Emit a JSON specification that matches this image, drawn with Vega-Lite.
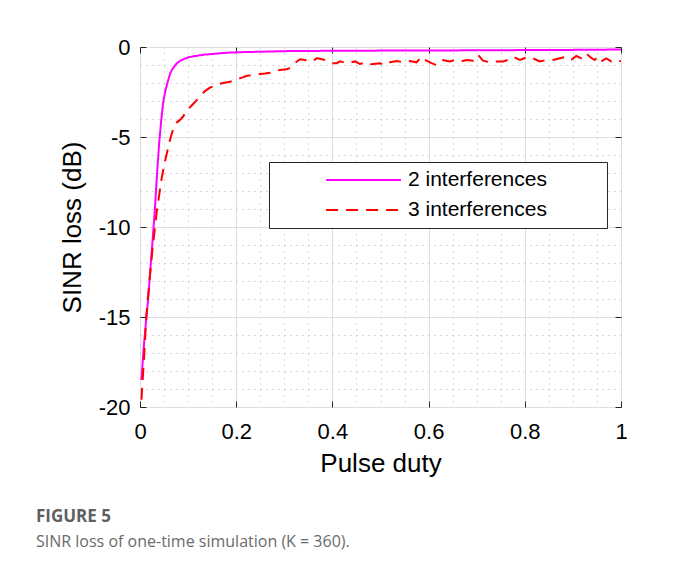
{
  "$schema": "https://vega.github.io/schema/vega-lite/v6.json",
  "width": 481,
  "height": 360,
  "autosize": {"type": "none"},
  "padding": {"left": 140, "top": 47, "right": 59, "bottom": 160},
  "background": "white",
  "config": {
    "view": {"stroke": "#262626", "strokeWidth": 1},
    "font": "Liberation Sans"
  },
  "title": {
    "text": "FIGURE 5",
    "subtitle": "SINR loss of one-time simulation (K = 360).",
    "orient": "bottom",
    "anchor": "start",
    "frame": "group",
    "dx": -104,
    "offset": 33,
    "font": "Open Sans",
    "fontSize": 17,
    "fontWeight": "bold",
    "color": "#5f5f5f",
    "subtitleFont": "Open Sans",
    "subtitleFontSize": 16,
    "subtitleColor": "#6b6b6b",
    "subtitlePadding": 8
  },
  "data": {
    "values": [
      {"duty": 0.003, "loss": -18.5, "series": "2 interferences"},
      {"duty": 0.008, "loss": -16.6, "series": "2 interferences"},
      {"duty": 0.013, "loss": -15.1, "series": "2 interferences"},
      {"duty": 0.017, "loss": -14.0, "series": "2 interferences"},
      {"duty": 0.022, "loss": -12.2, "series": "2 interferences"},
      {"duty": 0.026, "loss": -10.8, "series": "2 interferences"},
      {"duty": 0.031, "loss": -9.0, "series": "2 interferences"},
      {"duty": 0.036, "loss": -6.8, "series": "2 interferences"},
      {"duty": 0.040, "loss": -5.3, "series": "2 interferences"},
      {"duty": 0.044, "loss": -4.1, "series": "2 interferences"},
      {"duty": 0.048, "loss": -3.1, "series": "2 interferences"},
      {"duty": 0.053, "loss": -2.4, "series": "2 interferences"},
      {"duty": 0.058, "loss": -1.9, "series": "2 interferences"},
      {"duty": 0.063, "loss": -1.45, "series": "2 interferences"},
      {"duty": 0.068, "loss": -1.2, "series": "2 interferences"},
      {"duty": 0.076, "loss": -0.92, "series": "2 interferences"},
      {"duty": 0.083, "loss": -0.78, "series": "2 interferences"},
      {"duty": 0.090, "loss": -0.68, "series": "2 interferences"},
      {"duty": 0.100, "loss": -0.58, "series": "2 interferences"},
      {"duty": 0.110, "loss": -0.52, "series": "2 interferences"},
      {"duty": 0.120, "loss": -0.48, "series": "2 interferences"},
      {"duty": 0.135, "loss": -0.42, "series": "2 interferences"},
      {"duty": 0.152, "loss": -0.39, "series": "2 interferences"},
      {"duty": 0.170, "loss": -0.34, "series": "2 interferences"},
      {"duty": 0.187, "loss": -0.31, "series": "2 interferences"},
      {"duty": 0.220, "loss": -0.28, "series": "2 interferences"},
      {"duty": 0.256, "loss": -0.26, "series": "2 interferences"},
      {"duty": 0.300, "loss": -0.23, "series": "2 interferences"},
      {"duty": 0.350, "loss": -0.22, "series": "2 interferences"},
      {"duty": 0.400, "loss": -0.21, "series": "2 interferences"},
      {"duty": 0.450, "loss": -0.21, "series": "2 interferences"},
      {"duty": 0.500, "loss": -0.2, "series": "2 interferences"},
      {"duty": 0.550, "loss": -0.2, "series": "2 interferences"},
      {"duty": 0.600, "loss": -0.19, "series": "2 interferences"},
      {"duty": 0.650, "loss": -0.19, "series": "2 interferences"},
      {"duty": 0.700, "loss": -0.18, "series": "2 interferences"},
      {"duty": 0.750, "loss": -0.18, "series": "2 interferences"},
      {"duty": 0.800, "loss": -0.17, "series": "2 interferences"},
      {"duty": 0.850, "loss": -0.17, "series": "2 interferences"},
      {"duty": 0.900, "loss": -0.16, "series": "2 interferences"},
      {"duty": 0.950, "loss": -0.15, "series": "2 interferences"},
      {"duty": 1.000, "loss": -0.14, "series": "2 interferences"},

      {"duty": 0.003, "loss": -19.6, "series": "3 interferences"},
      {"duty": 0.006, "loss": -18.3, "series": "3 interferences"},
      {"duty": 0.009, "loss": -17.0, "series": "3 interferences"},
      {"duty": 0.013, "loss": -15.0, "series": "3 interferences"},
      {"duty": 0.017, "loss": -13.8, "series": "3 interferences"},
      {"duty": 0.021, "loss": -12.6, "series": "3 interferences"},
      {"duty": 0.025, "loss": -11.5, "series": "3 interferences"},
      {"duty": 0.030, "loss": -10.3, "series": "3 interferences"},
      {"duty": 0.035, "loss": -9.1, "series": "3 interferences"},
      {"duty": 0.040, "loss": -8.2, "series": "3 interferences"},
      {"duty": 0.045, "loss": -7.3, "series": "3 interferences"},
      {"duty": 0.050, "loss": -6.6, "series": "3 interferences"},
      {"duty": 0.055, "loss": -6.0, "series": "3 interferences"},
      {"duty": 0.060, "loss": -5.4, "series": "3 interferences"},
      {"duty": 0.065, "loss": -4.9, "series": "3 interferences"},
      {"duty": 0.070, "loss": -4.5, "series": "3 interferences"},
      {"duty": 0.076, "loss": -4.2, "series": "3 interferences"},
      {"duty": 0.083, "loss": -4.05, "series": "3 interferences"},
      {"duty": 0.090, "loss": -3.85, "series": "3 interferences"},
      {"duty": 0.097, "loss": -3.5, "series": "3 interferences"},
      {"duty": 0.104, "loss": -3.35, "series": "3 interferences"},
      {"duty": 0.111, "loss": -3.15, "series": "3 interferences"},
      {"duty": 0.118, "loss": -2.95, "series": "3 interferences"},
      {"duty": 0.125, "loss": -2.75, "series": "3 interferences"},
      {"duty": 0.135, "loss": -2.45, "series": "3 interferences"},
      {"duty": 0.146, "loss": -2.25, "series": "3 interferences"},
      {"duty": 0.155, "loss": -2.15, "series": "3 interferences"},
      {"duty": 0.165, "loss": -2.05, "series": "3 interferences"},
      {"duty": 0.173, "loss": -2.0, "series": "3 interferences"},
      {"duty": 0.187, "loss": -1.93, "series": "3 interferences"},
      {"duty": 0.201, "loss": -1.8, "series": "3 interferences"},
      {"duty": 0.212, "loss": -1.7, "series": "3 interferences"},
      {"duty": 0.222, "loss": -1.6, "series": "3 interferences"},
      {"duty": 0.236, "loss": -1.56, "series": "3 interferences"},
      {"duty": 0.250, "loss": -1.5, "series": "3 interferences"},
      {"duty": 0.260, "loss": -1.47, "series": "3 interferences"},
      {"duty": 0.270, "loss": -1.43, "series": "3 interferences"},
      {"duty": 0.284, "loss": -1.3, "series": "3 interferences"},
      {"duty": 0.295, "loss": -1.27, "series": "3 interferences"},
      {"duty": 0.305, "loss": -1.24, "series": "3 interferences"},
      {"duty": 0.313, "loss": -1.15, "series": "3 interferences"},
      {"duty": 0.319, "loss": -1.0, "series": "3 interferences"},
      {"duty": 0.326, "loss": -0.8, "series": "3 interferences"},
      {"duty": 0.333, "loss": -0.68, "series": "3 interferences"},
      {"duty": 0.343, "loss": -0.72, "series": "3 interferences"},
      {"duty": 0.353, "loss": -0.81, "series": "3 interferences"},
      {"duty": 0.360, "loss": -0.78, "series": "3 interferences"},
      {"duty": 0.367, "loss": -0.63, "series": "3 interferences"},
      {"duty": 0.374, "loss": -0.65, "series": "3 interferences"},
      {"duty": 0.384, "loss": -0.72, "series": "3 interferences"},
      {"duty": 0.399, "loss": -0.9, "series": "3 interferences"},
      {"duty": 0.409, "loss": -0.9, "series": "3 interferences"},
      {"duty": 0.416, "loss": -0.8, "series": "3 interferences"},
      {"duty": 0.430, "loss": -0.9, "series": "3 interferences"},
      {"duty": 0.447, "loss": -0.8, "series": "3 interferences"},
      {"duty": 0.457, "loss": -0.94, "series": "3 interferences"},
      {"duty": 0.471, "loss": -0.85, "series": "3 interferences"},
      {"duty": 0.481, "loss": -0.96, "series": "3 interferences"},
      {"duty": 0.499, "loss": -0.9, "series": "3 interferences"},
      {"duty": 0.509, "loss": -1.0, "series": "3 interferences"},
      {"duty": 0.520, "loss": -0.85, "series": "3 interferences"},
      {"duty": 0.534, "loss": -0.78, "series": "3 interferences"},
      {"duty": 0.547, "loss": -0.85, "series": "3 interferences"},
      {"duty": 0.561, "loss": -0.78, "series": "3 interferences"},
      {"duty": 0.575, "loss": -0.85, "series": "3 interferences"},
      {"duty": 0.585, "loss": -0.54, "series": "3 interferences"},
      {"duty": 0.592, "loss": -0.7, "series": "3 interferences"},
      {"duty": 0.606, "loss": -0.9, "series": "3 interferences"},
      {"duty": 0.616, "loss": -1.0, "series": "3 interferences"},
      {"duty": 0.630, "loss": -0.72, "series": "3 interferences"},
      {"duty": 0.644, "loss": -0.8, "series": "3 interferences"},
      {"duty": 0.654, "loss": -0.72, "series": "3 interferences"},
      {"duty": 0.668, "loss": -0.8, "series": "3 interferences"},
      {"duty": 0.679, "loss": -0.72, "series": "3 interferences"},
      {"duty": 0.693, "loss": -0.76, "series": "3 interferences"},
      {"duty": 0.703, "loss": -0.44, "series": "3 interferences"},
      {"duty": 0.713, "loss": -0.76, "series": "3 interferences"},
      {"duty": 0.727, "loss": -0.85, "series": "3 interferences"},
      {"duty": 0.741, "loss": -0.8, "series": "3 interferences"},
      {"duty": 0.755, "loss": -0.8, "series": "3 interferences"},
      {"duty": 0.765, "loss": -0.72, "series": "3 interferences"},
      {"duty": 0.776, "loss": -0.54, "series": "3 interferences"},
      {"duty": 0.790, "loss": -0.72, "series": "3 interferences"},
      {"duty": 0.804, "loss": -0.57, "series": "3 interferences"},
      {"duty": 0.817, "loss": -0.63, "series": "3 interferences"},
      {"duty": 0.831, "loss": -0.8, "series": "3 interferences"},
      {"duty": 0.845, "loss": -0.72, "series": "3 interferences"},
      {"duty": 0.859, "loss": -0.72, "series": "3 interferences"},
      {"duty": 0.873, "loss": -0.63, "series": "3 interferences"},
      {"duty": 0.887, "loss": -0.54, "series": "3 interferences"},
      {"duty": 0.897, "loss": -0.7, "series": "3 interferences"},
      {"duty": 0.907, "loss": -0.5, "series": "3 interferences"},
      {"duty": 0.918, "loss": -0.63, "series": "3 interferences"},
      {"duty": 0.928, "loss": -0.35, "series": "3 interferences"},
      {"duty": 0.935, "loss": -0.54, "series": "3 interferences"},
      {"duty": 0.945, "loss": -0.72, "series": "3 interferences"},
      {"duty": 0.952, "loss": -0.54, "series": "3 interferences"},
      {"duty": 0.959, "loss": -0.8, "series": "3 interferences"},
      {"duty": 0.969, "loss": -0.63, "series": "3 interferences"},
      {"duty": 0.980, "loss": -0.8, "series": "3 interferences"},
      {"duty": 0.990, "loss": -0.72, "series": "3 interferences"},
      {"duty": 1.000, "loss": -0.8, "series": "3 interferences"}
    ]
  },
  "layer": [
    {
      "mark": {"type": "line", "strokeWidth": 2, "clip": true},
      "encoding": {
        "x": {
          "field": "duty", "type": "quantitative",
          "scale": {"domain": [0, 1], "nice": false, "zero": false},
          "axis": {
            "orient": "bottom",
            "title": "Pulse duty",
            "titleFont": "Liberation Sans",
            "titleFontSize": 26, "titleFontWeight": "normal", "titleColor": "#000000", "titlePadding": 8,
            "values": [0, 0.05, 0.1, 0.15, 0.2, 0.25, 0.3, 0.35, 0.4, 0.45, 0.5, 0.55, 0.6, 0.65, 0.7, 0.75, 0.8, 0.85, 0.9, 0.95, 1],
            "labelExpr": "round(datum.value*100) % 20 == 0 ? '' + round(datum.value*10)/10 : ''",
            "labelFont": "Liberation Sans",
            "labelFontSize": 22, "labelColor": "#000000", "labelPadding": 20,
            "labelFlush": false, "labelOverlap": false,
            "domain": false,
            "tickSize": -6, "tickColor": "#262626",
            "tickOpacity": {"condition": {"test": "round(datum.value*100) % 20 == 0", "value": 1}, "value": 0},
            "grid": true,
            "gridColor": {"condition": {"test": "round(datum.value*100) % 20 == 0", "value": "#dedede"}, "value": "#b4b4b4"},
            "gridDash": {"condition": {"test": "round(datum.value*100) % 20 == 0", "value": []}, "value": [1, 5]},
            "gridWidth": 1
          }
        },
        "y": {
          "field": "loss", "type": "quantitative",
          "scale": {"domain": [-20, 0], "nice": false, "zero": false},
          "axis": {
            "orient": "left",
            "title": "SINR loss (dB)",
            "titleFont": "Liberation Sans",
            "titleFontSize": 26, "titleFontWeight": "normal", "titleColor": "#000000", "titlePadding": 13,
            "values": [-20, -19, -18, -17, -16, -15, -14, -13, -12, -11, -10, -9, -8, -7, -6, -5, -4, -3, -2, -1, 0],
            "labelExpr": "datum.value % 5 == 0 ? '' + datum.value : ''",
            "labelFont": "Liberation Sans",
            "labelFontSize": 22, "labelColor": "#000000", "labelPadding": 16,
            "labelFlush": false, "labelOverlap": false,
            "domain": false,
            "tickSize": -6, "tickColor": "#262626",
            "tickOpacity": {"condition": {"test": "datum.value % 5 == 0", "value": 1}, "value": 0},
            "grid": true,
            "gridColor": {"condition": {"test": "datum.value % 5 == 0", "value": "#dedede"}, "value": "#b4b4b4"},
            "gridDash": {"condition": {"test": "datum.value % 5 == 0", "value": []}, "value": [1, 5]},
            "gridWidth": 1
          }
        },
        "color": {
          "field": "series", "type": "nominal",
          "scale": {"domain": ["2 interferences", "3 interferences"], "range": ["#ff00ff", "#ff0000"]},
          "legend": {
            "title": null,
            "orient": "none",
            "legendX": 129,
            "legendY": 115,
            "direction": "vertical",
            "fillColor": "white",
            "strokeColor": "#262626",
            "padding": 7,
            "symbolType": "stroke",
            "symbolSize": 5600,
            "symbolStrokeWidth": 2,
            "symbolOffset": 49,
            "clipHeight": 22,
            "labelOffset": 6,
            "labelFont": "Liberation Sans",
            "labelFontSize": 21,
            "labelColor": "#000000",
            "labelLimit": 400,
            "labelExpr": "datum.label + '         \u200b'",
            "rowPadding": 8
          }
        },
        "strokeDash": {
          "field": "series", "type": "nominal",
          "scale": {"domain": ["2 interferences", "3 interferences"], "range": [[1, 0], [12, 8]]},
          "legend": null
        }
      }
    },
    {
      "mark": {"type": "point", "opacity": 0},
      "encoding": {
        "x": {
          "field": "duty", "type": "quantitative",
          "axis": {
            "orient": "top", "title": null, "labels": false, "grid": false, "domain": false,
            "values": [0, 0.2, 0.4, 0.6, 0.8, 1], "tickSize": -6, "tickColor": "#262626"
          }
        },
        "y": {
          "field": "loss", "type": "quantitative",
          "axis": {
            "orient": "right", "title": null, "labels": false, "grid": false, "domain": false,
            "values": [-20, -15, -10, -5, 0], "tickSize": -6, "tickColor": "#262626"
          }
        }
      }
    }
  ],
  "resolve": {"axis": {"x": "independent", "y": "independent"}}
}
